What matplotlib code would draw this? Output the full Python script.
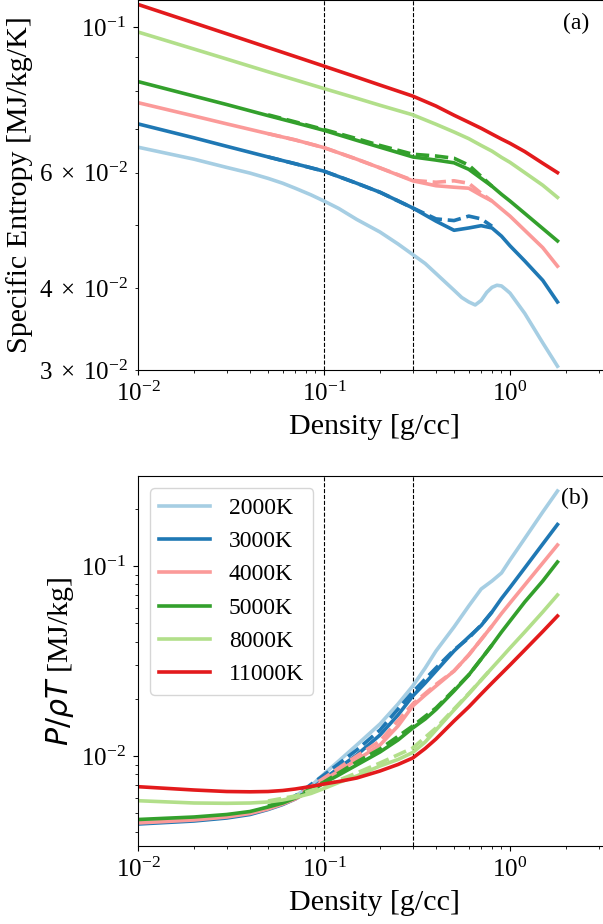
import numpy as np
import matplotlib
matplotlib.use("Agg")
import matplotlib.pyplot as plt
from matplotlib.ticker import FuncFormatter

plt.rcParams['font.family'] = ['Liberation Serif', 'DejaVu Sans']
plt.rcParams['mathtext.fontset'] = 'dejavusans'

labels = ['2000K', '3000K', '4000K', '5000K', '8000K', '11000K']
colors = ['#a6cee3', '#1f78b4', '#fb9a99', '#33a02c', '#b2df8a', '#e31a1c']

# densities [g/cc]
rho = [0.01, 0.02, 0.03, 0.05, 0.07, 0.1, 0.15, 0.2, 0.3, 0.4, 0.5, 0.6,
       0.7, 0.8, 0.9, 1.0, 1.2, 1.5, 1.8]
rho_2000a = [0.01, 0.02, 0.03, 0.04, 0.05, 0.06, 0.07, 0.085, 0.1, 0.12, 0.15, 0.2,
             0.25, 0.3, 0.35, 0.4, 0.5, 0.55, 0.6, 0.65, 0.7, 0.75, 0.8, 0.85, 0.9,
             0.95, 1.0, 1.2, 1.5, 1.8]
rho_b = [0.01, 0.02, 0.03, 0.04, 0.05, 0.06, 0.07, 0.085, 0.1, 0.12, 0.15, 0.2, 0.25,
         0.3, 0.35, 0.4, 0.5, 0.6, 0.7, 0.8, 0.9, 1.0, 1.2, 1.5, 1.8]
rho_dash = [0.05, 0.07, 0.1, 0.15, 0.2, 0.3, 0.4, 0.5, 0.6, 0.7, 0.8]

# (a) specific entropy [MJ/kg/K]
S_2000 = [0.0656, 0.0629, 0.0611, 0.0599, 0.0588, 0.0578, 0.0568, 0.0555, 0.0543, 0.0529,
          0.0509, 0.0487, 0.0467, 0.0450, 0.0436, 0.0421, 0.0397, 0.0387, 0.0381, 0.0377,
          0.0383, 0.0394, 0.0401, 0.0404, 0.0403, 0.0398, 0.0393, 0.0366, 0.0330, 0.0304]
S_3000 = [0.0712, 0.0678, 0.0658, 0.0634, 0.0619, 0.0603, 0.0578, 0.0560, 0.0530,
          0.0506, 0.0490, 0.0494, 0.0498, 0.0494, 0.0480, 0.0464, 0.0440, 0.0411, 0.0381]
S_4000 = [0.0767, 0.0732, 0.0712, 0.0688, 0.0673, 0.0655, 0.0629, 0.0610, 0.0583,
          0.0573, 0.0570, 0.0568, 0.0554, 0.0543, 0.0528, 0.0515, 0.0490, 0.0461, 0.0432]
S_5000 = [0.0826, 0.0785, 0.0762, 0.0733, 0.0715, 0.0696, 0.0672, 0.0656, 0.0634,
          0.0627, 0.0621, 0.0607, 0.0588, 0.0572, 0.0556, 0.0543, 0.0520, 0.0493, 0.0472]
S_8000 = [0.0983, 0.0926, 0.0894, 0.0855, 0.0831, 0.0806, 0.0779, 0.0760, 0.0735,
          0.0711, 0.0692, 0.0676, 0.0660, 0.0647, 0.0633, 0.0622, 0.0600, 0.0574, 0.0550]
S_11000 = [0.1083, 0.1015, 0.0977, 0.0931, 0.0902, 0.0872, 0.0839, 0.0816, 0.0785,
           0.0758, 0.0734, 0.0716, 0.0701, 0.0687, 0.0675, 0.0665, 0.0646, 0.0620, 0.0600]
S_3000_d = [0.0634, 0.0619, 0.0603, 0.0578, 0.0560, 0.0530, 0.0510, 0.0507, 0.0515, 0.0510, 0.0497]
S_4000_d = [0.0688, 0.0673, 0.0655, 0.0629, 0.0610, 0.0584, 0.0580, 0.0583, 0.0578, 0.0558, 0.0543]
S_5000_d = [0.0735, 0.0717, 0.0698, 0.0676, 0.0660, 0.0640, 0.0636, 0.0631, 0.0616, 0.0592, 0.0572]

# (b) P/(rho T) [MJ/kg]
Z_2000 = [0.004467, 0.004632, 0.004833, 0.005042, 0.005389, 0.0057265, 0.006158, 0.0069535,
          0.00804, 0.0094118, 0.011426, 0.014738, 0.018779, 0.023357, 0.029052, 0.035697,
          0.047747, 0.06158, 0.075667, 0.083379, 0.091872, 0.10754, 0.13955, 0.19241, 0.2481]
Z_3000 = [0.004386, 0.004549, 0.004717, 0.0049216, 0.005229, 0.0055552, 0.005938, 0.0066628,
          0.007567, 0.0086474, 0.010122, 0.012898, 0.016436, 0.020691, 0.024223, 0.028013,
          0.035697, 0.042297, 0.048626, 0.057265, 0.067449, 0.077063, 0.097605, 0.13054, 0.16534]
Z_4000 = [0.00444, 0.004604, 0.004775, 0.0049813, 0.00526, 0.0055891, 0.005938, 0.0065826,
          0.007476, 0.0083379, 0.009527, 0.011426, 0.014384, 0.018331, 0.020944, 0.023357,
          0.028013, 0.034007, 0.041036, 0.048329, 0.056234, 0.063857, 0.079433, 0.1037, 0.12898]
Z_5000 = [0.004632, 0.004775, 0.004922, 0.0051034, 0.005389, 0.0056576, 0.00601, 0.0065431,
          0.007209, 0.0079433, 0.008969, 0.010497, 0.012141, 0.01404, 0.015659, 0.01757,
          0.021987, 0.02669, 0.032397, 0.038385, 0.044934, 0.051347, 0.064637, 0.083379, 0.10497]
Z_8000 = [0.005817, 0.005658, 0.005637, 0.0056576, 0.005727, 0.0058673, 0.006047, 0.0063476,
          0.006745, 0.0072533, 0.007848, 0.008861, 0.0095848, 0.010433, 0.01185, 0.013704,
          0.017463, 0.021199, 0.025119, 0.029052, 0.032991, 0.037016, 0.044934, 0.057265, 0.070372]
Z_11000 = [0.006894, 0.006623, 0.006503, 0.0064797, 0.006503, 0.0065826, 0.006703, 0.0069117,
           0.007123, 0.0073417, 0.00766, 0.008338, 0.0090231, 0.009761, 0.010952, 0.012289,
           0.015284, 0.01811, 0.021199, 0.024223, 0.027178, 0.030126, 0.036132, 0.045207, 0.054551]
Z_3000_d = [0.005324, 0.006158, 0.007943, 0.010754, 0.013704, 0.021724, 0.029052, 0.036132,
            0.041787, 0.048921, 0.057265]
Z_4000_d = [0.005324, 0.006084, 0.00766, 0.01, 0.011995, 0.018779, 0.0238, 0.028013,
            0.034007, 0.041036, 0.048329]
Z_5000_d = [0.005456, 0.006084, 0.007298, 0.009299, 0.010885, 0.014384, 0.017892, 0.022255,
            0.02669, 0.032397, 0.038385]
Z_8000_d = [0.005796, 0.006158, 0.006954, 0.00814, 0.009187, 0.011018, 0.01404, 0.017676,
            0.021328, 0.025119, 0.029052]

vlines = [0.1, 0.3]

W, H = 603, 924
fig = plt.figure(figsize=(W / 100, H / 100), dpi=100)
left = 138 / W
width = 473.2 / W
ax1 = fig.add_axes([left, 554 / H, width, 370 / H])
ax2 = fig.add_axes([left, 78 / H, width, 370 / H])

lw = 2.6
top_solid = [(rho_2000a, S_2000), (rho, S_3000), (rho, S_4000), (rho, S_5000), (rho, S_8000), (rho, S_11000)]
top_dash = {1: S_3000_d, 2: S_4000_d, 3: S_5000_d}
bot_solid = [Z_2000, Z_3000, Z_4000, Z_5000, Z_8000, Z_11000]
bot_dash = {1: Z_3000_d, 2: Z_4000_d, 3: Z_5000_d, 4: Z_8000_d}

for ax in (ax1, ax2):
    for v in vlines:
        ax.axvline(v, color='k', ls='--', lw=0.8, zorder=1)

for i, (x, y) in enumerate(top_solid):
    ax1.plot(x, y, color=colors[i], lw=lw, label=labels[i], zorder=2)
    if i in top_dash:
        ax1.plot(rho_dash, top_dash[i], color=colors[i], lw=lw, ls='--', zorder=2)

for i, y in enumerate(bot_solid):
    ax2.plot(rho_b, y, color=colors[i], lw=lw, label=labels[i], zorder=2)
    if i in bot_dash:
        ax2.plot(rho_dash, bot_dash[i], color=colors[i], lw=lw, ls='--', zorder=2)

for ax in (ax1, ax2):
    ax.set_xscale('log')
    ax.set_yscale('log')
    ax.set_xlim(0.01, 3.5)
    ax.tick_params(which='both', labelsize=18, pad=5)
    ax.set_xlabel('Density [g/cc]', fontsize=21.6, labelpad=6)

ax1.set_ylim(0.03, 0.11)
ax2.set_ylim(0.00336, 0.2976)


def minor_fmt(v, pos):
    e = int(np.floor(np.log10(v) + 1e-9))
    c = int(round(v / 10 ** e))
    if c in (3, 4, 6):
        return r'$\mathdefault{%d\,\times\,10^{%d}}$' % (c, e)
    return ''


ax1.yaxis.set_minor_formatter(FuncFormatter(minor_fmt))

ax1.set_ylabel('Specific Entropy [MJ/kg/K]', fontsize=21.6)
ax2.set_ylabel(r'$P/\rho T$ [MJ/kg]', fontsize=21.6)

ax1.text(2.28, 0.1013, '(a)', fontsize=17, ha='center', va='center')
ax2.text(2.24, 0.228, '(b)', fontsize=17, ha='center', va='center')

ax2.legend(loc='upper left', fontsize=17, handlelength=2.15,
           bbox_to_anchor=(0.0, 1.0), borderaxespad=0.5)

fig.savefig('out.png', dpi=100)
